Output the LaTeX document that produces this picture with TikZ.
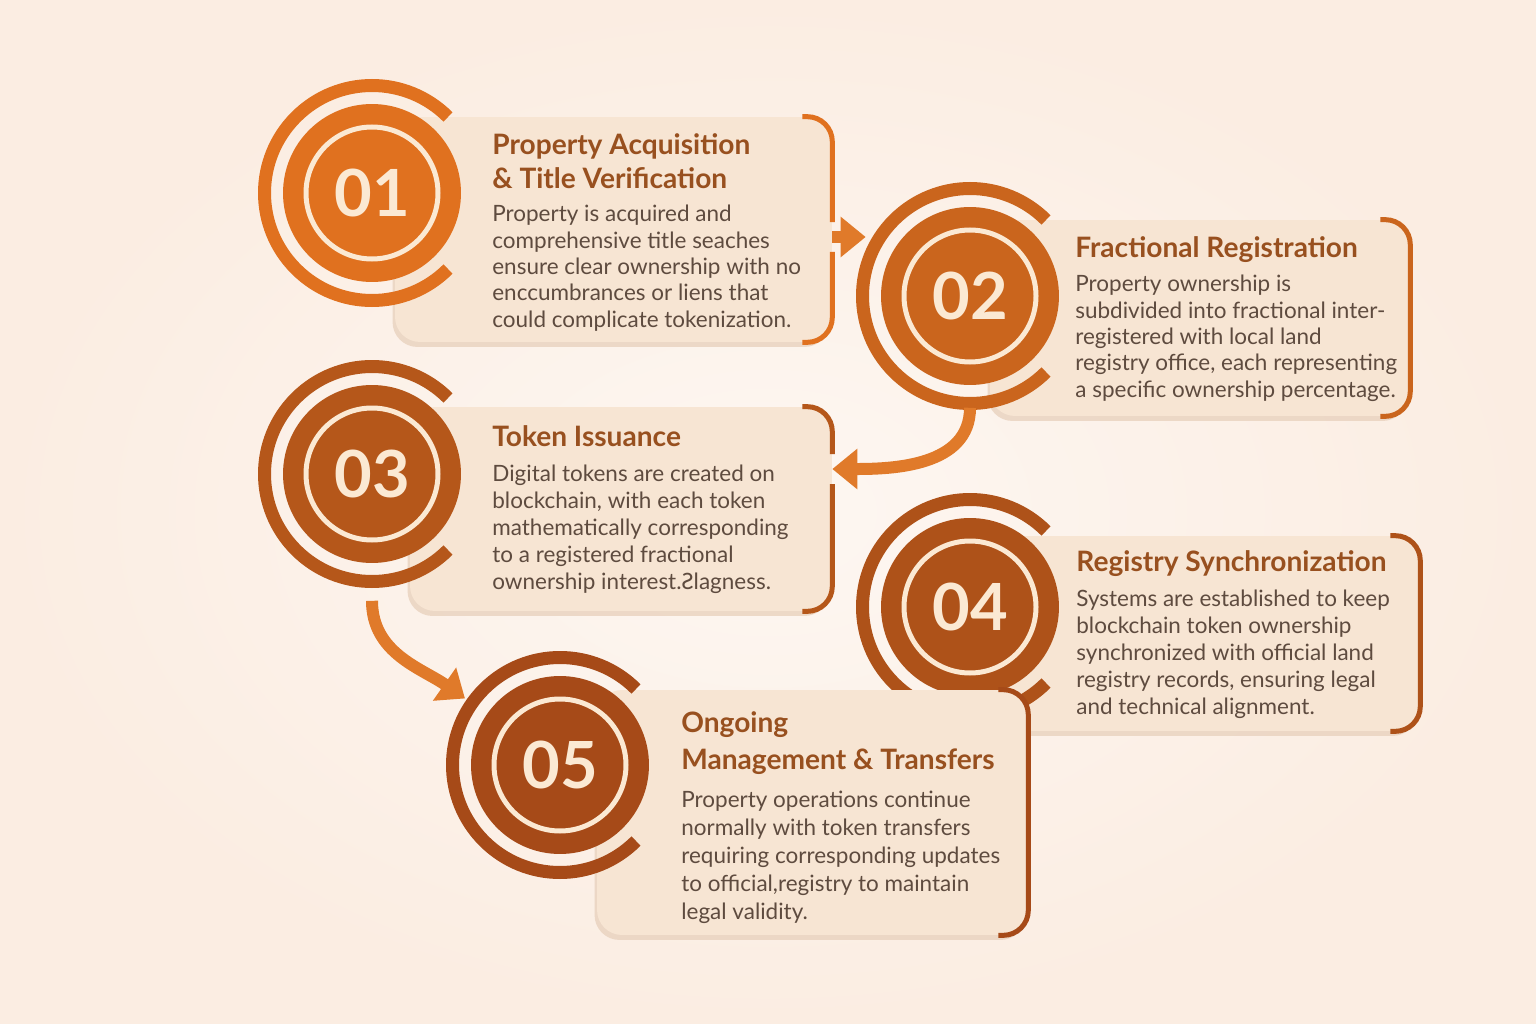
\documentclass[tikz,border=0pt]{standalone}
\usepackage{fontspec}
\setmainfont{Lato}
\usetikzlibrary{arrows.meta,calc,shadows}

\definecolor{bgcol}{HTML}{FBEDE2}
\definecolor{boxcol}{HTML}{F7E5D3}
\definecolor{shadecol}{HTML}{E9D2BE}
\definecolor{stepA}{HTML}{E0711F}
\definecolor{stepB}{HTML}{CA651D}
\definecolor{stepC}{HTML}{B5571A}
\definecolor{stepD}{HTML}{AE5219}
\definecolor{stepE}{HTML}{A64A18}
\definecolor{numcol}{HTML}{FBE9D3}
\definecolor{titlecol}{HTML}{98501F}
\definecolor{bodycol}{HTML}{5E4B3F}
\definecolor{flowcol}{HTML}{E07A2A}

\tikzset{
  card/.style={rectangle, rounded corners=0.5cm, fill=boxcol,
    drop shadow={shadow xshift=-0.5mm, shadow yshift=-1mm, fill=shadecol, opacity=0.8}},
  disc/.style={circle, minimum size=3.56cm, inner sep=0pt},
  numtext/.style={text=numcol, font=\fontsize{37}{37}\selectfont\bfseries},
  innerring/.style={draw=numcol, line width=0.1cm},
  cring/.style={line width=0.26cm},
  bracket/.style={line width=0.1cm, rounded corners=0.5cm},
  title/.style={anchor=north west, inner sep=0pt, align=left, text=titlecol,
    font=\fontsize{16}{19.5}\selectfont\bfseries},
  body/.style={anchor=north west, inner sep=0pt, align=left, text=bodycol,
    font=\fontsize{12.8}{15}\selectfont},
  flow/.style={draw=flowcol, line width=0.24cm, -{Triangle[length=0.5cm,width=0.78cm]}},
}

\begin{document}
\begin{tikzpicture}[x=0.02cm, y=-0.02cm]

      \useasboundingbox (0,0) rectangle (1536,1024);
      \shade[inner color=white!55!bgcol, outer color=bgcol] (0,0) rectangle (1536,1024);

      % step 1
      \node[card, minimum width=8.74cm, minimum height=4.5cm] (b1) at (613.5,229.5) {};
      \coordinate (a1s) at ([yshift=-0.15cm]b1.east);
      \draw[bracket, draw=stepA] ([xshift=-0.6cm]b1.north east) -- (b1.north east) -- ([yshift=0.3cm]a1s);
      \draw[bracket, draw=stepA] ([yshift=-0.3cm]a1s) -- (b1.south east) -- ([xshift=-0.6cm]b1.south east);
      \node[disc, fill=stepA] (c1) at (372,193) {};
      \draw[cring, draw=stepA] (c1.center) ++(45:107.5) arc[start angle=45, end angle=315, radius=107.5];
      \draw[innerring] (c1.center) circle[radius=66];
      \node[numtext] (n1) at (c1) {01};
      \node[title] (t1) at (492,133) {Property Acquisition\\\& Title Verification};
      \node[body] (d1) at (492,205) {Property is acquired and\\comprehensive title seaches\\ensure clear ownership with no\\enccumbrances or liens that\\could complicate tokenization.};

      % step 2
      \node[card, minimum width=8.4cm, minimum height=3.92cm] (b2) at (1200,318) {};
      \draw[bracket, draw=stepB] ([xshift=-0.6cm]b2.north east) -- (b2.north east) -- (b2.south east) -- ([xshift=-0.6cm]b2.south east);
      \node[disc, fill=stepB] (c2) at (970,296) {};
      \draw[cring, draw=stepB] (c2.center) ++(45:107.5) arc[start angle=45, end angle=315, radius=107.5];
      \draw[innerring] (c2.center) circle[radius=66];
      \node[numtext] (n2) at (c2) {02};
      \node[title] (t2) at (1075,236) {Fractional Registration};
      \node[body] (d2) at (1075,275) {Property ownership is\\subdivided into fractional inter-\\registered with local land\\registry office, each representing\\a specific ownership percentage.};

      % step 3
      \node[card, minimum width=8.44cm, minimum height=4.08cm] (b3) at (621,509) {};
      \coordinate (a2e) at ([yshift=0.8cm]b3.east);
      \draw[bracket, draw=stepC] ([xshift=-0.6cm]b3.north east) -- (b3.north east) -- ([yshift=0.3cm]a2e);
      \draw[bracket, draw=stepC] ([yshift=-0.3cm]a2e) -- (b3.south east) -- ([xshift=-0.6cm]b3.south east);
      \node[disc, fill=stepC] (c3) at (372,474) {};
      \draw[cring, draw=stepC] (c3.center) ++(45:107.5) arc[start angle=45, end angle=315, radius=107.5];
      \draw[innerring] (c3.center) circle[radius=66];
      \node[numtext] (n3) at (c3) {03};
      \node[title] (t3) at (492,425) {Token Issuance};
      \node[body, font=\fontsize{12.8}{15.3}\selectfont] (d3) at (492,465) {Digital tokens are created on\\blockchain, with each token\\mathematically corresponding\\to a registered fractional\\ownership interest.Ƨlagness.};

      % step 4
      \node[card, minimum width=8.4cm, minimum height=3.9cm] (b4) at (1210,633.5) {};
      \draw[bracket, draw=stepD] ([xshift=-0.6cm]b4.north east) -- (b4.north east) -- (b4.south east) -- ([xshift=-0.6cm]b4.south east);
      \node[disc, fill=stepD] (c4) at (970,607) {};
      \draw[cring, draw=stepD] (c4.center) ++(45:107.5) arc[start angle=45, end angle=315, radius=107.5];
      \draw[innerring] (c4.center) circle[radius=66];
      \node[numtext] (n4) at (c4) {04};
      \node[title] (t4) at (1076,550) {Registry Synchronization};
      \node[body, font=\fontsize{12.8}{15.3}\selectfont] (d4) at (1076,590) {Systems are established to keep\\blockchain token ownership\\synchronized with official land\\registry records, ensuring legal\\and technical alignment.};

      % step 5
      \node[card, minimum width=8.62cm, minimum height=4.9cm] (b5) at (812.5,812.5) {};
      \draw[bracket, draw=stepE] ([xshift=-0.6cm]b5.north east) -- (b5.north east) -- (b5.south east) -- ([xshift=-0.6cm]b5.south east);
      \node[disc, fill=stepE] (c5) at (560,765) {};
      \draw[cring, draw=stepE] (c5.center) ++(45:107.5) arc[start angle=45, end angle=315, radius=107.5];
      \draw[innerring] (c5.center) circle[radius=66];
      \node[numtext] (n5) at (c5) {05};
      \node[title, font=\fontsize{16}{21}\selectfont\bfseries] (t5) at (681,711) {Ongoing\\Management \& Transfers};
      \node[body, font=\fontsize{12.8}{15.9}\selectfont] (d5) at (681,791) {Property operations continue\\normally with token transfers\\requiring corresponding updates\\to official,registry to maintain\\legal validity.};

      % arrows
      \coordinate (a2s) at ([yshift=-0.45cm]c2.south);
      \coordinate (a3s) at ([yshift=-0.75cm]c3.south);
      \coordinate (a3e) at ($(c5.center)+(215:116)$);
      \draw[flow, shorten >=0.3cm] (a1s) -- (a1s -| c2.west);
      \draw[flow] (a2s) to[out=-90, in=0] (a2e);
      \draw[flow] (a3s) to[out=-90, in=145] (a3e);
    \end{tikzpicture}
\end{document}
